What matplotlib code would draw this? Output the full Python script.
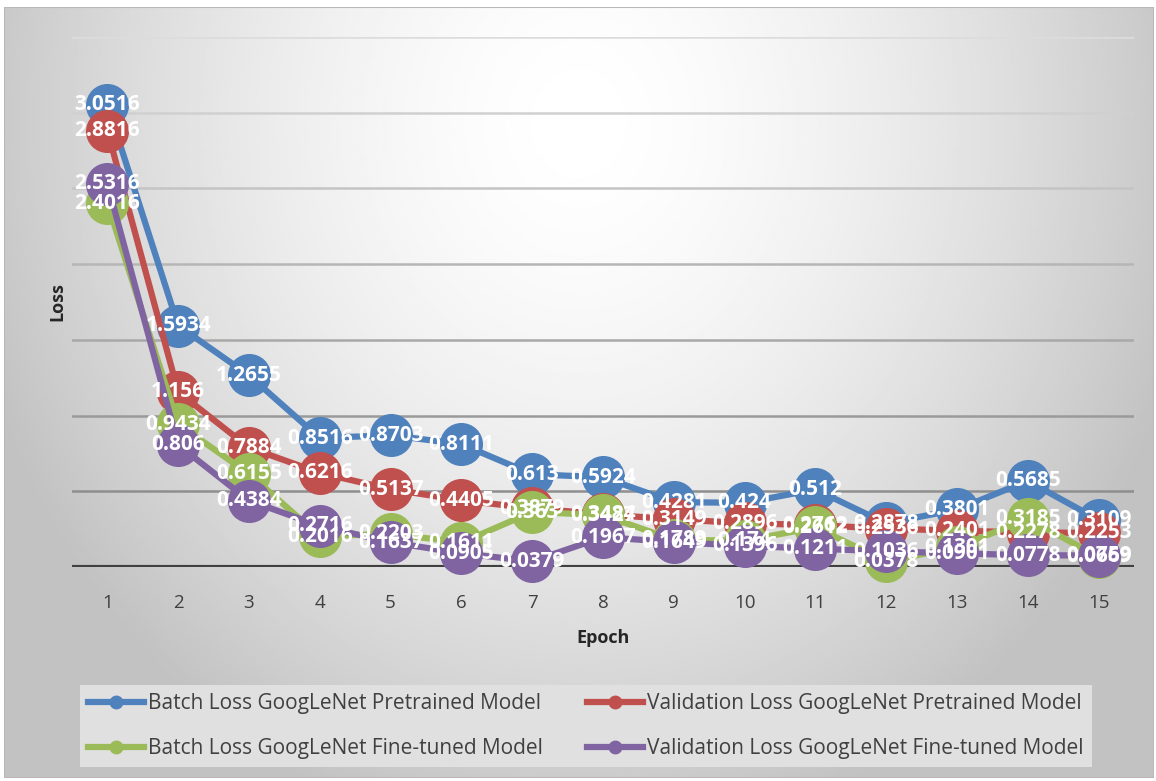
import numpy as np
import matplotlib
matplotlib.use("Agg")
import matplotlib.pyplot as plt
from matplotlib.lines import Line2D
from matplotlib.patches import Rectangle

plt.rcParams['font.family'] = ['Open Sans', 'DejaVu Sans']

epochs = list(range(1, 16))
batch_pre = [3.0516, 1.5934, 1.2655, 0.8516, 0.8703, 0.8111, 0.613, 0.5924,
             0.4281, 0.424, 0.512, 0.2878, 0.3801, 0.5685, 0.3109]
val_pre = [2.8816, 1.156, 0.7884, 0.6216, 0.5137, 0.4405, 0.3879, 0.3484,
           0.3149, 0.2896, 0.2762, 0.2536, 0.2401, 0.2278, 0.2253]
batch_ft = [2.4016, 0.9434, 0.6155, 0.2016, 0.2203, 0.1611, 0.363, 0.3427,
            0.1789, 0.174, 0.2612, 0.0378, 0.1301, 0.3185, 0.0669]
val_ft = [2.5316, 0.806, 0.4384, 0.2716, 0.1637, 0.0905, 0.0379, 0.1967,
          0.1649, 0.1396, 0.1211, 0.1036, 0.0901, 0.0778, 0.0759]

names = ["Batch Loss GoogLeNet Pretrained Model",
         "Validation Loss GoogLeNet Pretrained Model",
         "Batch Loss GoogLeNet Fine-tuned Model",
         "Validation Loss GoogLeNet Fine-tuned Model"]
colors = ["#4f81bd", "#c0504d", "#9bbb59", "#8064a2"]
series = [batch_pre, val_pre, batch_ft, val_ft]

W, H = 1156, 781
fig = plt.figure(figsize=(W / 100, H / 100), dpi=100)

# chart area: soft radial gradient with a thin grey border
bg = fig.add_axes([4 / W, 3 / H, 1150 / W, 771 / H])
yy, xx = np.mgrid[0:1:300j, 0:1:450j]
r = np.sqrt(((xx - 0.5) / 0.55) ** 2 + ((yy - 0.15) / 0.95) ** 2)
shade = 1.0 - 0.24 * np.clip(r, 0, 1) ** 1.6
bg.imshow(shade, cmap="gray", vmin=0, vmax=1, aspect="auto", extent=[0, 1, 0, 1])
bg.add_patch(Rectangle((0, 0), 1, 1, transform=bg.transAxes, fill=False,
                       edgecolor="#b8b8b8", lw=1.5))
bg.set_axis_off()

ax = fig.add_axes([72 / W, 1 - 567 / H, 1062 / W, 530 / H])
ax.set_facecolor("none")
ax.set_xlim(0.5, 15.5)
ax.set_ylim(0, 3.5)

grid_levels = [0.5, 1.0, 1.5, 2.0, 2.5, 3.0, 3.5]
grid_colors = ["#8e8e8e", "#9a9a9a", "#a8a8a8", "#b6b6b6", "#c4c4c4", "#d0d0d0", "#dcdcdc"]
for g, c in zip(grid_levels, grid_colors):
    ax.axhline(g, color=c, lw=1.8, zorder=1)
ax.axhline(0, color="#404040", lw=3, zorder=2)

for vals, c in zip(series, colors):
    ax.plot(epochs, vals, color=c, lw=4.5, marker="o", markersize=31,
            markeredgewidth=0, zorder=3, clip_on=False)

for vals in series:
    for x, v in zip(epochs, vals):
        ax.text(x, v, f"{v:g}", color="white", fontsize=15, fontweight="bold",
                ha="center", va="center", zorder=5, clip_on=False)

for s in ax.spines.values():
    s.set_visible(False)
ax.set_yticks([])
ax.set_xticks(epochs)
ax.tick_params(axis="x", length=0, pad=19.5, labelsize=13.5, labelcolor="#404040")
ax.set_xlabel("Epoch", fontsize=13, fontweight="bold", color="#262626", labelpad=12)
ax.set_ylabel("Loss", fontsize=13, fontweight="bold", color="#262626", labelpad=4)

handles = [Line2D([], [], color=c, lw=4.5, marker="o", markersize=9) for c in colors]
order = [0, 2, 1, 3]
leg = fig.legend([handles[i] for i in order], [names[i] for i in order],
                 ncol=2, loc="center", bbox_to_anchor=(586 / W, 1 - 726 / H),
                 fontsize=15, frameon=True, fancybox=False, handlelength=2.7,
                 handletextpad=0.2, columnspacing=2.1, labelspacing=1.15,
                 borderpad=0.4, labelcolor="#404040")
leg.get_frame().set_facecolor("#e0e0e0")
leg.get_frame().set_edgecolor("none")
leg.get_frame().set_alpha(1)

fig.savefig("out.png", dpi=100)
